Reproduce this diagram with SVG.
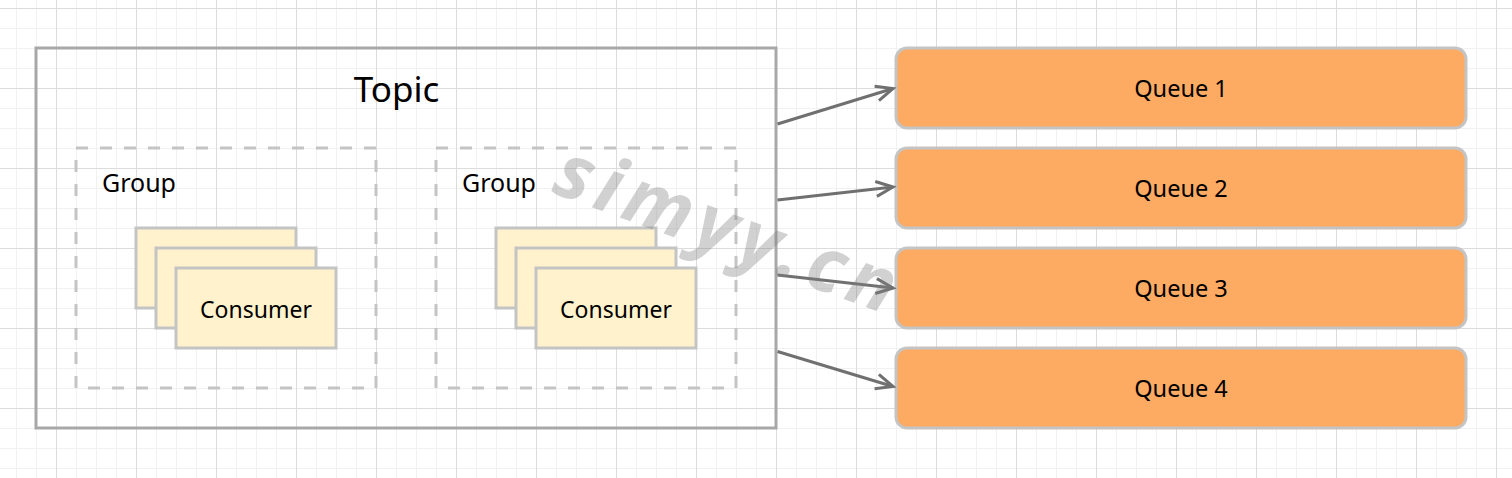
<svg xmlns="http://www.w3.org/2000/svg" width="1512" height="478" viewBox="0 0 1512 478">
<style>
.txt{font-family:"Comic Sans MS","Noto Sans",sans-serif;fill:#000}
.topic{fill:none;stroke:#a8a8a8;stroke-width:3}
.group{fill:none;stroke:#c4c4c4;stroke-width:3;stroke-dasharray:12 12}
.cons{fill:#fff2cc;stroke:#c4c4c4;stroke-width:3}
.queue{fill:#fdab63;stroke:#c4c4c4;stroke-width:3}
.conn{fill:none;stroke:#707070;stroke-width:3}
</style>
<defs>
<pattern id="grid" x="16" y="8" width="80" height="80" patternUnits="userSpaceOnUse">
<rect x="0" y="0" width="1" height="80" fill="#f1f1f1"/>
<rect x="20" y="0" width="1" height="80" fill="#f1f1f1"/>
<rect x="60" y="0" width="1" height="80" fill="#f1f1f1"/>
<rect x="0" y="20" width="80" height="1" fill="#f1f1f1"/>
<rect x="0" y="40" width="80" height="1" fill="#f1f1f1"/>
<rect x="0" y="60" width="80" height="1" fill="#f1f1f1"/>
<rect x="40" y="0" width="1" height="80" fill="#dcdcdc"/>
<rect x="0" y="0" width="80" height="1" fill="#dcdcdc"/>
</pattern>
<marker id="arr" markerUnits="userSpaceOnUse" markerWidth="24" markerHeight="24" viewBox="0 0 24 24" refX="19" refY="12" orient="auto">
<path d="M2,4.5 L19,12 L2,19.5" fill="none" stroke="#707070" stroke-width="3"/>
</marker>
</defs>
<rect width="1512" height="478" fill="#ffffff"/>
<rect width="1512" height="478" fill="url(#grid)"/>

<g id="topic">
<rect class="topic" x="36" y="48" width="740" height="380"/>
<text class="txt" x="396.5" y="102" font-size="35" text-anchor="middle">Topic</text>
</g>

<g id="group1">
<rect class="group" x="76" y="148" width="300" height="240"/>
<text class="txt" x="102" y="191.5" font-size="25">Group</text>
</g>
<g id="group2">
<rect class="group" x="436" y="148" width="300" height="240"/>
<text class="txt" x="462" y="191.5" font-size="25">Group</text>
</g>

<g id="consumers1">
<rect class="cons" x="136" y="228" width="160" height="80"/>
<rect class="cons" x="156" y="248" width="160" height="80"/>
<rect class="cons" x="176" y="268" width="160" height="80"/>
<text class="txt" x="256" y="318" font-size="23" text-anchor="middle">Consumer</text>
</g>
<g id="consumers2">
<rect class="cons" x="496" y="228" width="160" height="80"/>
<rect class="cons" x="516" y="248" width="160" height="80"/>
<rect class="cons" x="536" y="268" width="160" height="80"/>
<text class="txt" x="616" y="318" font-size="23" text-anchor="middle">Consumer</text>
</g>

<g id="queue1">
<rect class="queue" x="896" y="48" width="570" height="80" rx="11"/>
<text class="txt" x="1181" y="97" font-size="23.5" text-anchor="middle">Queue 1</text>
</g>
<g id="queue2">
<rect class="queue" x="896" y="148" width="570" height="80" rx="11"/>
<text class="txt" x="1181" y="197" font-size="23.5" text-anchor="middle">Queue 2</text>
</g>
<g id="queue3">
<rect class="queue" x="896" y="248" width="570" height="80" rx="11"/>
<text class="txt" x="1181" y="297" font-size="23.5" text-anchor="middle">Queue 3</text>
</g>
<g id="queue4">
<rect class="queue" x="896" y="348" width="570" height="80" rx="11"/>
<text class="txt" x="1181" y="397" font-size="23.5" text-anchor="middle">Queue 4</text>
</g>

<g id="connectors">
<path class="conn" d="M777.5,124 L893,88.5" marker-end="url(#arr)"/>
<path class="conn" d="M777.5,200 L893,187" marker-end="url(#arr)"/>
<path class="conn" d="M777.5,275 L893,288" marker-end="url(#arr)"/>
<path class="conn" d="M777.5,351.5 L893,386.5" marker-end="url(#arr)"/>
</g>

<text x="550" y="192" transform="rotate(20 550 192)" font-family="'Noto Sans',sans-serif" font-style="italic" font-weight="bold" font-size="76" letter-spacing="7" fill="#808080" fill-opacity="0.36">simyy.cn</text>
</svg>
